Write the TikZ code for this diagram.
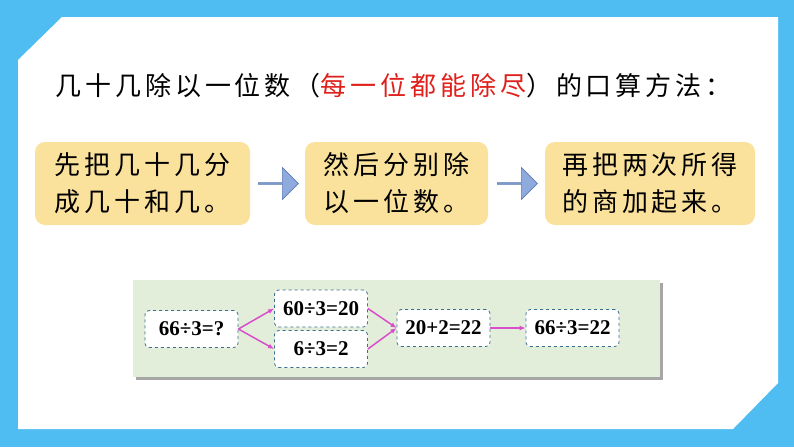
\documentclass[tikz,border=0pt]{standalone}
\usepackage{fontspec}
\setmainfont{Liberation Serif}
\newfontfamily\cjk[LetterSpace=15]{Noto Sans CJK SC}
\usetikzlibrary{shapes.arrows,arrows.meta}
\definecolor{frame}{HTML}{4FBDF2}
\definecolor{boxy}{HTML}{FBE29C}
\definecolor{arrb}{HTML}{8FAADC}
\definecolor{arrbd}{HTML}{5A7BB5}
\definecolor{grn}{HTML}{E3EEDA}
\definecolor{dash}{HTML}{3A6F8F}
\definecolor{mag}{HTML}{D94FCB}
\definecolor{redt}{HTML}{E0201B}
\tikzset{
 stepbox/.style={fill=boxy,rounded corners=10pt,minimum width=#1,minimum height=83pt,inner sep=0pt,font=\cjk\fontsize{26}{37}\selectfont,align=left},
 barrow/.style={single arrow,fill=arrb,draw=arrbd,line width=0.6pt,minimum width=32pt,single arrow head extend=6pt,minimum height=40pt,inner sep=0pt},
 calc/.style={draw=dash,dashed,line width=0.8pt,fill=white,rounded corners=4pt,minimum width=93pt,minimum height=37pt,font=\bfseries\fontsize{21}{24}\selectfont},
 marr/.style={-{Latex[length=6pt,width=5pt]},mag,line width=1.5pt}
}
\begin{document}
\begin{tikzpicture}[x=1pt,y=-1pt]
\useasboundingbox (0,0) rectangle (794,447);
\fill[frame] (0,0) rectangle (794,447);
\fill[white] (18,60) -- (62,17) -- (778,17) -- (778,383) -- (733,429) -- (18,429) -- cycle;
\node[anchor=west,font=\cjk\fontsize{26}{30}\selectfont] (title) at (52,86) {几十几除以一位数（\textcolor{redt}{每一位都能除尽}）的口算方法：};
\node[stepbox=215pt] (s1) at (142.5,183.5) {先把几十几分\\成几十和几。};
\node[stepbox=183pt] (s2) at (396.5,183.5) {然后分别除\\以一位数。};
\node[stepbox=210pt] (s3) at (650,183.5) {再把两次所得\\的商加起来。};
\node[barrow] (a1) at (278,183.5) {};
\node[barrow] (a2) at (517,183.5) {};
\fill[gray!70] (136,283) rectangle (663,380);
\fill[grn] (133,280) rectangle (660,377);
\node[calc] (c1) at (191.5,329) {66÷3=?};
\node[calc] (c2) at (321,308.5) {60÷3=20};
\node[calc] (c3) at (321,349) {6÷3=2};
\node[calc] (c4) at (443.5,328) {20+2=22};
\node[calc] (c5) at (572.5,328) {66÷3=22};
\draw[marr] (c1.east) -- (c2.west);
\draw[marr] (c1.east) -- (c3.west);
\draw[marr] (c2.east) -- (c4.west);
\draw[marr] (c3.east) -- (c4.west);
\draw[marr] (c4.east) -- (c5.west);
\end{tikzpicture}
\end{document}
